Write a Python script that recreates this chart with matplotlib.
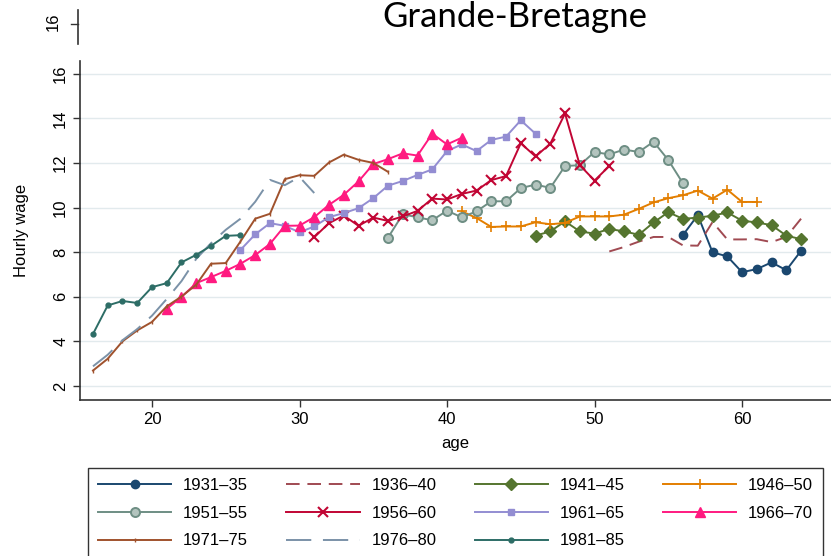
import matplotlib
matplotlib.use("Agg")
import matplotlib.pyplot as plt
from matplotlib.lines import Line2D

plt.rcParams['font.family'] = ['Liberation Sans Narrow', 'Liberation Sans', 'DejaVu Sans']

cohorts = ["1931\u201335", "1936\u201340", "1941\u201345", "1946\u201350", "1951\u201355",
           "1956\u201360", "1961\u201365", "1966\u201370", "1971\u201375", "1976\u201380", "1981\u201385"]

age_1931 = list(range(56, 65))
w_1931 = [8.77, 9.66, 7.99, 7.81, 7.10, 7.24, 7.54, 7.19, 8.06]

age_1936 = list(range(51, 65))
w_1936 = [8.03, 8.23, 8.47, 8.68, 8.68, 8.30, 8.29, 9.35, 8.57, 8.57, 8.58, 8.45, 8.68, 9.50]

age_1941 = list(range(46, 65))
w_1941 = [8.74, 8.93, 9.38, 8.93, 8.83, 9.04, 8.93, 8.78, 9.33, 9.79, 9.49, 9.55, 9.63,
          9.78, 9.41, 9.33, 9.21, 8.74, 8.58]

age_1946 = list(range(41, 62))
w_1946 = [9.83, 9.53, 9.13, 9.15, 9.15, 9.34, 9.25, 9.31, 9.60, 9.60, 9.60, 9.68, 9.94,
          10.23, 10.42, 10.55, 10.76, 10.40, 10.80, 10.25, 10.25]

age_1951 = list(range(36, 57))
w_1951 = [8.65, 9.70, 9.56, 9.43, 9.86, 9.56, 9.83, 10.28, 10.28, 10.87, 11.03, 10.88,
          11.86, 11.90, 12.49, 12.38, 12.60, 12.49, 12.95, 12.13, 11.08]

age_1956 = list(range(31, 52))
w_1956 = [8.67, 9.30, 9.64, 9.18, 9.55, 9.40, 9.60, 9.85, 10.40, 10.36, 10.61, 10.76,
          11.23, 11.41, 12.88, 12.29, 12.86, 14.22, 11.90, 11.21, 11.86]

age_1961 = list(range(26, 47))
w_1961 = [8.10, 8.80, 9.30, 9.18, 8.89, 9.15, 9.57, 9.75, 9.97, 10.42, 10.98, 11.19,
          11.46, 11.71, 12.53, 12.83, 12.53, 13.03, 13.18, 13.91, 13.31]

age_1966 = list(range(21, 42))
w_1966 = [5.46, 5.99, 6.61, 6.88, 7.16, 7.48, 7.87, 8.37, 9.18, 9.19, 9.57, 10.12, 10.57,
          11.17, 11.95, 12.17, 12.43, 12.33, 13.31, 12.83, 13.13]

age_1971 = list(range(16, 37))
w_1971 = [2.69, 3.22, 4.00, 4.49, 4.87, 5.57, 6.01, 6.54, 7.48, 7.51, 8.48, 9.50, 9.72,
          11.27, 11.45, 11.42, 12.02, 12.37, 12.14, 12.00, 11.60]

age_1976 = list(range(16, 32))
w_1976 = [2.88, 3.40, 4.05, 4.55, 5.15, 5.90, 6.70, 7.70, 8.40, 9.00, 9.50, 10.26, 11.24,
          11.00, 11.37, 10.65]

age_1981 = list(range(16, 27))
w_1981 = [4.33, 5.61, 5.81, 5.72, 6.43, 6.61, 7.54, 7.88, 8.28, 8.73, 8.76]

ages = [age_1931, age_1936, age_1941, age_1946, age_1951, age_1956, age_1961,
        age_1966, age_1971, age_1976, age_1981]
wages = [w_1931, w_1936, w_1941, w_1946, w_1951, w_1956, w_1961, w_1966, w_1971,
         w_1976, w_1981]

yticks = [2, 4, 6, 8, 10, 12, 14, 16]
xticks = [20, 30, 40, 50, 60]

styles = [
    dict(color='#1a476f', marker='o', ms=6, ls='-'),
    dict(color='#a04a52', marker=None, ls=(0, (7, 4))),
    dict(color='#55752f', marker='D', ms=6.2, ls='-'),
    dict(color='#e37e00', marker='+', ms=7, mew=1.2, ls='-'),
    dict(color='#6e8e84', marker='o', ms=6.5, mfc='#b3c4be', mec='#6e8e84', mew=1.4, ls='-'),
    dict(color='#c10534', marker='x', ms=6.5, mew=1.5, ls='-'),
    dict(color='#938dd2', marker='s', ms=4.5, ls='-'),
    dict(color='#ff1a80', marker='^', ms=6.5, ls='-'),
    dict(color='#a0522d', marker='|', ms=2.5, ls='-'),
    dict(color='#7b92a8', marker=None, ls=(0, (13, 6))),
    dict(color='#2d6d66', marker='o', ms=3.5, ls='-'),
]

W, H = 831, 556
fig = plt.figure(figsize=(W / 100, H / 100), dpi=100)
ax = fig.add_axes([80 / W, 1 - 400 / H, 1 - 80 / W, (400 - 61) / H])

handles = []
for a, w, lab, st in zip(ages, wages, cohorts, styles):
    st = dict(st)
    ls = st.pop('ls')
    h, = ax.plot(a, w, label=lab, linestyle=ls, lw=1.4, **st)
    handles.append(h)

ax.set_xlim(15.12, 66.03)
ax.set_ylim(1.37, 16.57)
ax.set_yticks(yticks)
ax.set_xticks(xticks)
ax.grid(axis='y', color='#e2eaed', lw=1.0)
ax.set_axisbelow(True)
for s in ['top', 'right']:
    ax.spines[s].set_visible(False)
for s in ['left', 'bottom']:
    ax.spines[s].set_color('#333333')
    ax.spines[s].set_linewidth(1.2)
ax.tick_params(axis='both', direction='out', length=5, width=1, color='#333333',
               labelsize=12)
for t in ax.get_yticklabels():
    t.set_rotation(90)
    t.set_va('center')
ax.set_xlabel('age', fontsize=12)
ax.set_ylabel('Hourly wage', fontsize=12)
ax.xaxis.set_label_coords(0.5, -0.105)
ax.yaxis.set_label_coords(-0.068, 0.5)

# legend filled row by row (4 columns)
order = [0, 4, 8, 1, 5, 9, 2, 6, 10, 3, 7]
leg = fig.legend([handles[i] for i in order], [cohorts[i] for i in order],
                 loc='upper left', bbox_to_anchor=(88 / W, 0, (823 - 88) / W, 1 - 468 / H),
                 mode='expand', ncol=4, fontsize=12, handlelength=4.4, handletextpad=0.7,
                 labelspacing=0.76, borderpad=0.6, borderaxespad=0.0,
                 fancybox=False, frameon=True)
leg.get_frame().set_edgecolor('#000000')
leg.get_frame().set_linewidth(1.0)

# Fragment of the chart above (cropped) and the title
fig.text(53 / W, 1 - 22 / H, '16', rotation=90, ha='center', va='center', fontsize=12)
fig.add_artist(Line2D([78 / W, 78 / W], [1 - 10 / H, 1 - 44 / H], color='#333333', lw=1.2))
fig.add_artist(Line2D([71 / W, 78 / W], [1 - 24 / H, 1 - 24 / H], color='#333333', lw=1.0))
fig.text(515 / W, 1 - 27 / H, 'Grande-Bretagne', ha='center', va='baseline',
         fontsize=25, family=['Lato', 'DejaVu Sans'])

fig.savefig('out.png', dpi=100)
